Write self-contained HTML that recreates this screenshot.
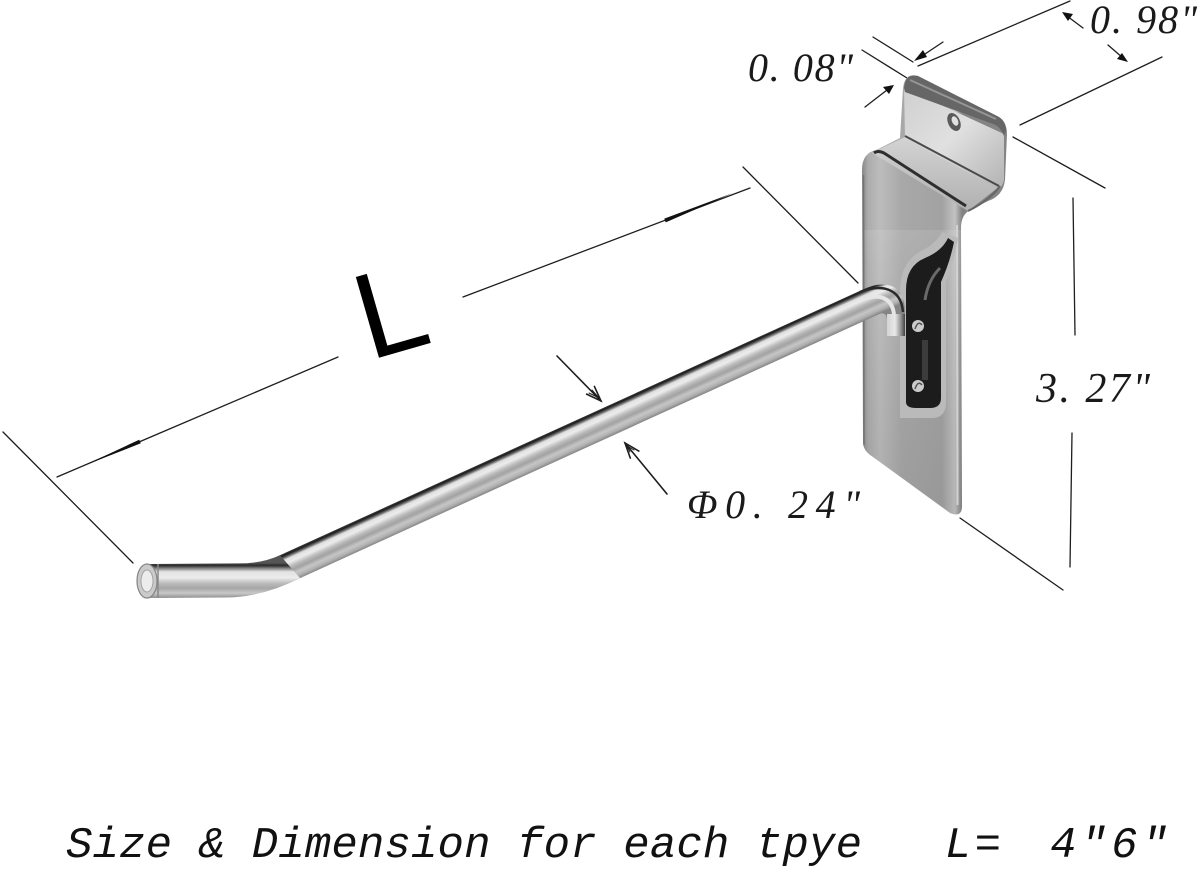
<!DOCTYPE html>
<html>
<head>
<meta charset="utf-8">
<style>
  html,body{margin:0;padding:0;background:#fff;}
  svg{display:block;}
  .dim{font-family:"Liberation Serif","DejaVu Serif",serif;font-style:italic;fill:#1a1a1a;}
  .cap{font-family:"Liberation Mono","DejaVu Sans Mono",monospace;font-style:italic;fill:#111;}
</style>
</head>
<body>
<svg width="1200" height="870" viewBox="0 0 1200 870" xmlns="http://www.w3.org/2000/svg">
  <defs>
    <linearGradient id="gradB" gradientUnits="userSpaceOnUse" x1="570" y1="423" x2="582.1" y2="449.5">
      <stop offset="0" stop-color="#3a3a3a"/>
      <stop offset="0.06" stop-color="#1c1c1c"/>
      <stop offset="0.13" stop-color="#666"/>
      <stop offset="0.21" stop-color="#e0e0e0"/>
      <stop offset="0.34" stop-color="#ececec"/>
      <stop offset="0.5" stop-color="#b8b8b8"/>
      <stop offset="0.62" stop-color="#a2a2a2"/>
      <stop offset="0.76" stop-color="#c6c6c6"/>
      <stop offset="0.89" stop-color="#b0b0b0"/>
      <stop offset="1" stop-color="#858585"/>
    </linearGradient>
    <linearGradient id="gradA" gradientUnits="userSpaceOnUse" x1="0" y1="563" x2="0" y2="598">
      <stop offset="0" stop-color="#555"/>
      <stop offset="0.07" stop-color="#2a2a2a"/>
      <stop offset="0.15" stop-color="#808080"/>
      <stop offset="0.25" stop-color="#e2e2e2"/>
      <stop offset="0.42" stop-color="#ececec"/>
      <stop offset="0.58" stop-color="#bcbcbc"/>
      <stop offset="0.72" stop-color="#a6a6a6"/>
      <stop offset="0.86" stop-color="#c8c8c8"/>
      <stop offset="1" stop-color="#8e8e8e"/>
    </linearGradient>
    <linearGradient id="gradC" gradientUnits="userSpaceOnUse" x1="886" y1="0" x2="906" y2="0">
      <stop offset="0" stop-color="#d0d0d0"/>
      <stop offset="0.45" stop-color="#e8e8e8"/>
      <stop offset="0.75" stop-color="#909090"/>
      <stop offset="1" stop-color="#2e2e2e"/>
    </linearGradient>
    <linearGradient id="plateG" gradientUnits="userSpaceOnUse" x1="862" y1="0" x2="962" y2="0">
      <stop offset="0" stop-color="#868686"/>
      <stop offset="0.06" stop-color="#acacac"/>
      <stop offset="0.18" stop-color="#bcbcbc"/>
      <stop offset="0.4" stop-color="#a8a8a8"/>
      <stop offset="0.8" stop-color="#a2a2a2"/>
      <stop offset="0.93" stop-color="#c2c2c2"/>
      <stop offset="1" stop-color="#848484"/>
    </linearGradient>
    <linearGradient id="plateV" gradientUnits="userSpaceOnUse" x1="0" y1="220" x2="0" y2="515">
      <stop offset="0" stop-color="#ffffff" stop-opacity="0.12"/>
      <stop offset="1" stop-color="#000000" stop-opacity="0.06"/>
    </linearGradient>
    <linearGradient id="tabG" gradientUnits="userSpaceOnUse" x1="905" y1="90" x2="1000" y2="185">
      <stop offset="0" stop-color="#d0d0d0"/>
      <stop offset="0.5" stop-color="#e0e0e0"/>
      <stop offset="1" stop-color="#b6b6b6"/>
    </linearGradient>
    <linearGradient id="bandG" gradientUnits="userSpaceOnUse" x1="0" y1="136" x2="0" y2="212">
      <stop offset="0" stop-color="#d4d4d4"/>
      <stop offset="1" stop-color="#b0b0b0"/>
    </linearGradient>
  </defs>

  <rect width="1200" height="870" fill="#fff"/>

  <!-- ===== dimension lines ===== -->
  <g stroke="#1e1e1e" stroke-width="1.3" fill="none" stroke-linecap="round">
    <line x1="3" y1="432" x2="133" y2="563"/>
    <line x1="743" y1="167" x2="858" y2="283"/>
    <line x1="57" y1="477" x2="338" y2="357"/>
    <line x1="463" y1="297" x2="750" y2="188"/>
    <line x1="873" y1="37" x2="913" y2="62"/>
    <line x1="862" y1="50" x2="907" y2="78"/>
    <line x1="943" y1="42" x2="922" y2="56"/>
    <line x1="865" y1="107" x2="887" y2="90"/>
    <line x1="918" y1="66" x2="1070" y2="1"/>
    <line x1="1020" y1="125" x2="1162" y2="57"/>
    <line x1="1083" y1="28" x2="1067" y2="16"/>
    <line x1="1108" y1="45" x2="1123" y2="58"/>
    <line x1="1013" y1="137" x2="1105" y2="188"/>
    <line x1="1073" y1="198" x2="1075" y2="335"/>
    <line x1="1072" y1="433" x2="1070" y2="567"/>
    <line x1="960" y1="518" x2="1063" y2="590"/>
    <line x1="557" y1="356" x2="601" y2="401" stroke-width="1.6"/>
    <polyline points="594.4,386.4 601,401 586.6,394.1" stroke-width="1.6"/>
    <polyline points="592,390 599,398 589,393" stroke-width="1"/>
    <line x1="667" y1="494" x2="625" y2="443" stroke-width="1.6"/>
    <polyline points="630.3,458.1 625,443 638.8,451.1" stroke-width="1.6"/>
    <polyline points="630,452 627,446 634,450" stroke-width="1"/>
  </g>
  <polygon points="83,466 140.8,443.3 139.2,439.7" fill="#111"/>
  <polygon points="733,193 665.7,222.4 664.3,218.6" fill="#111"/>
  <polygon points="914,61 923,50 927,57" fill="#111"/>
  <polygon points="894,85 883,87 889,94" fill="#111"/>
  <polygon points="1062,12 1073,14 1068,21" fill="#111"/>
  <polygon points="1128,62 1117,59 1122,53" fill="#111"/>

  <!-- ===== bracket ===== -->
  <path d="M863,442 L862,170 Q862,153 876,150 L900,138 L903,88 Q905,72 918,76 L997,116 Q1007,121 1007,134 L1005,180 Q1003,196 988,201 L970,210 Q961,215 961,228 L962,506 Q962,518 950,513 L873,457 Q863,451 863,442 Z" fill="url(#plateG)"/>
  <path d="M863,230 L961,230 L962,506 Q962,518 950,513 L873,457 Q863,451 863,442 Z" fill="url(#plateV)"/>
  <line x1="863.5" y1="175" x2="864" y2="445" stroke="#737373" stroke-width="1.5"/>
  <line x1="957" y1="225" x2="957.5" y2="505" stroke="#d2d2d2" stroke-width="2"/>
  <path d="M872,153 L905,137 L1000,186 L968,211 Z" fill="url(#bandG)"/>
  <path d="M904,88 L1004,134 L1004,180 Q1002,190 995,188 L905,137 Z" fill="url(#tabG)"/>
  <path d="M904,88 Q905,73 918,76 L997,116 Q1006,120 1006,131 L1004,136 Q1000,126 993,124 L905,92 Z" fill="#666"/>
  <path d="M910,80 L996,119" stroke="#959595" stroke-width="2" fill="none"/>
  <ellipse cx="954" cy="122" rx="6" ry="9.5" transform="rotate(-25 954 122)" fill="#5a5a5a"/>
  <ellipse cx="955" cy="121" rx="3" ry="5" transform="rotate(-25 955 121)" fill="#e2e2e2"/>
  <path d="M905,136 L999,186" stroke="#4a4a4a" stroke-width="2" fill="none"/>
  <path d="M874,153 Q878,150 884,153 L966,206" stroke="#2e2e2e" stroke-width="3" fill="none"/>
  <path d="M1000,186 Q990,200 968,211" stroke="#666" stroke-width="2" fill="none"/>
  <path d="M900,418 L900,292 Q900,262 921,251 Q936,244 942,232 L958,238 Q954,262 946,282 L946,402 Q946,418 932,418 Z" fill="#bababa"/>
  <path d="M906,402 L906,290 Q906,266 925,258 Q942,251 948,238 L954,242 Q950,262 941,282 L941,398 Q941,408 930,408 L916,408 Q906,408 906,402 Z" fill="#1c1c1c"/>
  <path d="M925,300 Q928,280 940,268" stroke="#6a6a6a" stroke-width="3" fill="none"/>
  <rect x="922" y="340" width="6" height="40" fill="#3c3c3c"/>
  <circle cx="918" cy="326" r="6" fill="#cccccc"/>
  <path d="M915,329 Q918,320 922,325" stroke="#555" stroke-width="1.5" fill="none"/>
  <circle cx="918" cy="386" r="6" fill="#cbcbcb"/>
  <path d="M915,389 Q918,380 922,385" stroke="#555" stroke-width="1.5" fill="none"/>

  <!-- ===== rod ===== -->
  <path d="M270,559.8 L864,289 C884,280 905,283 905,312 L905,336 L887,336 L887,321 Q887,310.4 878,314.6 L290,582.7 Z" fill="url(#gradB)"/>
  <path d="M150,564 L238,563.4 Q262,563.5 280,555.2 L300,578.1 Q262,597.5 225,597.5 L150,598 Z" fill="url(#gradA)"/>
  <path d="M887,314 L905,314 L905,336 L887,336 Z" fill="url(#gradC)"/>
  <path d="M860,292 C880,284 901,287 903,312" stroke="#2a2a2a" stroke-width="2.5" fill="none"/>
  <path d="M862,300 C878,293 892,297 894,314" stroke="#e6e6e6" stroke-width="4" fill="none"/>
  <line x1="158" y1="564" x2="158" y2="598" stroke="#8a8a8a" stroke-width="1.5"/>
  <ellipse cx="147" cy="581" rx="10" ry="17" fill="#cacaca" stroke="#858585" stroke-width="1.2"/>
  <ellipse cx="147" cy="581" rx="6" ry="11" fill="#ececec" stroke="#a4a4a4" stroke-width="1"/>

  <!-- ===== labels ===== -->
  <text x="-9" y="0" transform="translate(378,358) rotate(-16)" font-family="Liberation Sans, Arial, sans-serif" font-size="122" fill="#000">L</text>

  <text class="dim" x="748" y="81" font-size="40" textLength="105" lengthAdjust="spacing">0. 08"</text>
  <text class="dim" x="1090" y="33" font-size="40" textLength="107" lengthAdjust="spacing">0. 98"</text>
  <text class="dim" x="1036" y="402" font-size="42" textLength="114" lengthAdjust="spacing">3. 27"</text>
  <text class="dim" x="687" y="518" font-size="40" textLength="173" lengthAdjust="spacing">Φ0. 24"</text>

  <text class="cap" x="66" y="857" font-size="44" textLength="796" lengthAdjust="spacing">Size &amp; Dimension for each tpye</text>
  <text class="cap" x="945" y="857" font-size="44" textLength="56" lengthAdjust="spacing">L=</text>
  <text class="cap" x="1050" y="857" font-size="44" textLength="118" lengthAdjust="spacing">4"6"</text>
</svg>
</body>
</html>
